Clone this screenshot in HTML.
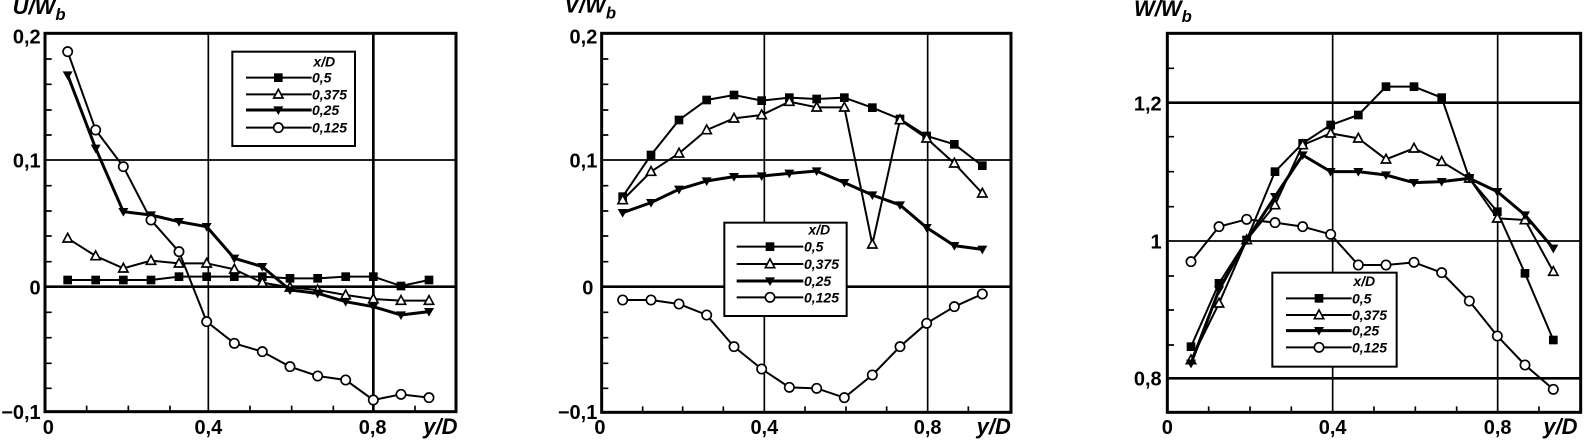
<!DOCTYPE html>
<html><head><meta charset="utf-8"><style>
html,body{margin:0;padding:0;background:#fff;}
svg{display:block;}
text{font-family:"Liberation Sans",Arial,sans-serif;font-weight:bold;fill:#000;}
.n{font-size:60px;}
.t{font-size:66px;font-style:italic;}
.l{font-size:42px;font-style:italic;}
.s{fill:none;stroke:#000;stroke-width:6;}
.k{fill:none;stroke:#000;stroke-width:9;}
.g{stroke:#000;stroke-width:5;}
.G{stroke:#000;stroke-width:8;}
</style></head><body>
<svg width="1587" height="440" viewBox="0 0 1587 440" xmlns="http://www.w3.org/2000/svg">
<defs>
<marker id="sq" markerUnits="userSpaceOnUse" viewBox="-15 -15 30 30" markerWidth="30" markerHeight="30" refX="0" refY="0" overflow="visible"><rect x="-13" y="-13" width="26" height="26" fill="#000"/></marker>
<marker id="tr" markerUnits="userSpaceOnUse" viewBox="-15 -15 30 30" markerWidth="30" markerHeight="30" refX="0" refY="0" overflow="visible"><polygon points="0,-15 14,11 -14,11" fill="#fff" stroke="#000" stroke-width="5"/></marker>
<marker id="dt" markerUnits="userSpaceOnUse" viewBox="-15 -15 30 30" markerWidth="30" markerHeight="30" refX="0" refY="0" overflow="visible"><polygon points="0,15 15,-11 -15,-11" fill="#000"/></marker>
<marker id="ci" markerUnits="userSpaceOnUse" viewBox="-15 -15 30 30" markerWidth="30" markerHeight="30" refX="0" refY="0" overflow="visible"><circle r="14" fill="#fff" stroke="#000" stroke-width="5"/></marker>
</defs>

<!-- Panel 1 -->
<g transform="scale(0.33333)">
<text class="t" x="38" y="42">U/W<tspan font-size="50" dy="18">b</tspan></text>
<rect x="135" y="100" width="1233" height="1135" fill="none" stroke="#000" stroke-width="9"/>
<line class="g" x1="625" y1="100" x2="625" y2="1235"/>
<line class="G" x1="1120" y1="100" x2="1120" y2="1235"/>
<line class="g" x1="135" y1="480" x2="1368" y2="480"/>
<line class="G" x1="135" y1="860" x2="1368" y2="860"/>
<path class="g" d="M135 177h20M135 253h20M135 330h20M135 405h20M135 557h20M135 633h20M135 708h20M135 785h20M135 937h20M135 1013h20M135 1090h20M135 1165h20M260 1235v-18M385 1235v-18M510 1235v-18M750 1235v-18M875 1235v-18M1000 1235v-18M1245 1235v-18"/>
<text class="n" x="122" y="130" text-anchor="end">0,2</text>
<text class="n" x="122" y="502" text-anchor="end">0,1</text>
<text class="n" x="122" y="884" text-anchor="end">0</text>
<text class="n" x="122" y="1257" text-anchor="end">−0,1</text>
<text class="n" x="145" y="1302" text-anchor="middle">0</text>
<text class="n" x="625" y="1302" text-anchor="middle">0,4</text>
<text class="n" x="1118" y="1302" text-anchor="middle">0,8</text>
<text class="t" x="1270" y="1302">y/D</text>
<polyline class="s" marker-start="url(#sq)" marker-mid="url(#sq)" marker-end="url(#sq)" points="203,840 287,840 370,840 453,840 537,830 620,830 703,830 787,830 870,835 953,835 1037,830 1120,830 1203,858 1287,840"/>
<polyline class="s" stroke-width="4" marker-start="url(#tr)" marker-mid="url(#tr)" marker-end="url(#tr)" points="203,715 287,768 370,805 453,782 537,790 620,790 703,808 787,848 870,862 953,870 1037,885 1120,897 1203,902 1287,902"/>
<polyline class="k" marker-start="url(#dt)" marker-mid="url(#dt)" marker-end="url(#dt)" points="203,225 287,445 370,635 453,645 537,665 620,680 703,775 787,800 870,870 953,880 1037,905 1120,920 1203,945 1287,935"/>
<polyline class="s" marker-start="url(#ci)" marker-mid="url(#ci)" marker-end="url(#ci)" points="203,155 287,390 370,500 453,660 537,755 620,965 703,1030 787,1055 870,1100 953,1128 1037,1140 1120,1200 1203,1183 1287,1193"/>
<rect x="697" y="155" width="368" height="283" fill="#fff" stroke="#000" stroke-width="6"/>
<text class="l" x="940" y="200">x/D</text>
<polyline class="s" marker-mid="url(#sq)" points="738,233 835,233 935,233"/>
<polyline class="s" stroke-width="3" marker-mid="url(#tr)" points="738,283 835,283 935,283"/>
<polyline class="k" marker-mid="url(#dt)" points="738,330 835,330 935,330"/>
<polyline class="s" stroke-width="3" marker-mid="url(#ci)" points="738,383 835,383 935,383"/>
<text class="l" x="936" y="248">0,5</text>
<text class="l" x="936" y="298">0,375</text>
<text class="l" x="936" y="345">0,25</text>
<text class="l" x="936" y="398">0,125</text>
</g>

<!-- Panel 2 -->
<g transform="translate(530,0) scale(0.33333)">
<text class="t" x="103" y="38">V/W<tspan font-size="50" dy="18">b</tspan></text>
<rect x="215" y="100" width="1228" height="1137" fill="none" stroke="#000" stroke-width="9"/>
<line class="g" x1="703" y1="100" x2="703" y2="1237"/>
<line class="g" x1="1193" y1="100" x2="1193" y2="1237"/>
<line class="g" x1="215" y1="480" x2="1443" y2="480"/>
<line class="G" x1="215" y1="860" x2="1443" y2="860"/>
<path class="g" d="M215 177h20M215 253h20M215 330h20M215 405h20M215 557h20M215 633h20M215 708h20M215 785h20M215 937h20M215 1013h20M215 1090h20M215 1165h20M338 1237v-18M458 1237v-18M580 1237v-18M825 1237v-18M948 1237v-18M1070 1237v-18M1315 1237v-18"/>
<text class="n" x="202" y="130" text-anchor="end">0,2</text>
<text class="n" x="202" y="502" text-anchor="end">0,1</text>
<text class="n" x="190" y="884" text-anchor="end">0</text>
<text class="n" x="202" y="1257" text-anchor="end">−0,1</text>
<text class="n" x="210" y="1302" text-anchor="middle">0</text>
<text class="n" x="703" y="1302" text-anchor="middle">0,4</text>
<text class="n" x="1193" y="1302" text-anchor="middle">0,8</text>
<text class="t" x="1340" y="1302">y/D</text>
<polyline class="s" marker-start="url(#sq)" marker-mid="url(#sq)" marker-end="url(#sq)" points="278,590 363,465 447,360 530,300 612,285 695,302 778,293 860,297 943,293 1027,323 1110,357 1190,408 1273,433 1357,497"/>
<polyline class="s" stroke-width="4" marker-start="url(#tr)" marker-mid="url(#tr)" marker-end="url(#tr)" points="278,600 363,515 447,460 530,390 612,355 695,345 778,305 860,322 943,322 1027,733 1110,360 1190,415 1273,490 1357,580"/>
<polyline class="k" marker-start="url(#dt)" marker-mid="url(#dt)" marker-end="url(#dt)" points="278,638 363,608 447,568 530,543 612,530 695,528 778,520 860,513 943,548 1027,585 1110,615 1190,683 1273,737 1357,748"/>
<polyline class="s" marker-start="url(#ci)" marker-mid="url(#ci)" marker-end="url(#ci)" points="278,900 363,900 447,912 530,945 612,1040 695,1107 778,1162 860,1165 943,1193 1027,1125 1110,1040 1190,970 1273,920 1357,882"/>
<rect x="583" y="668" width="367" height="280" fill="#fff" stroke="#000" stroke-width="6"/>
<text class="l" x="835" y="703">x/D</text>
<polyline class="s" marker-mid="url(#sq)" points="620,740 720,740 820,740"/>
<polyline class="s" stroke-width="3" marker-mid="url(#tr)" points="620,792 720,792 820,792"/>
<polyline class="k" marker-mid="url(#dt)" points="620,843 720,843 820,843"/>
<polyline class="s" stroke-width="3" marker-mid="url(#ci)" points="620,892 720,892 820,892"/>
<text class="l" x="822" y="755">0,5</text>
<text class="l" x="822" y="807">0,375</text>
<text class="l" x="822" y="858">0,25</text>
<text class="l" x="822" y="907">0,125</text>
</g>

<!-- Panel 3 -->
<g transform="translate(1060,0) scale(0.33333)">
<text class="t" x="222" y="48">W/W<tspan font-size="50" dy="18">b</tspan></text>
<rect x="322" y="100" width="1240" height="1137" fill="none" stroke="#000" stroke-width="9"/>
<line class="g" x1="818" y1="100" x2="818" y2="1237"/>
<line class="g" x1="1313" y1="100" x2="1313" y2="1237"/>
<line class="G" x1="322" y1="308" x2="1562" y2="308"/>
<line class="g" x1="322" y1="723" x2="1562" y2="723"/>
<line class="G" x1="322" y1="1135" x2="1562" y2="1135"/>
<path class="g" d="M322 205h20M322 410h20M322 515h20M322 620h20M322 828h20M322 930h20M322 1035h20M446 1237v-18M570 1237v-18M694 1237v-18M942 1237v-18M1066 1237v-18M1190 1237v-18M1437 1237v-18"/>
<text class="n" x="305" y="332" text-anchor="end">1,2</text>
<text class="n" x="305" y="745" text-anchor="end">1</text>
<text class="n" x="305" y="1157" text-anchor="end">0,8</text>
<text class="n" x="322" y="1302" text-anchor="middle">0</text>
<text class="n" x="818" y="1302" text-anchor="middle">0,4</text>
<text class="n" x="1313" y="1302" text-anchor="middle">0,8</text>
<text class="t" x="1450" y="1302">y/D</text>
<polyline class="s" marker-start="url(#sq)" marker-mid="url(#sq)" marker-end="url(#sq)" points="393,1040 477,850 560,720 645,515 728,430 812,375 895,345 978,260 1062,260 1145,293 1228,535 1312,635 1395,820 1480,1020"/>
<polyline class="s" stroke-width="4" marker-start="url(#tr)" marker-mid="url(#tr)" marker-end="url(#tr)" points="393,1080 477,910 560,720 645,615 728,435 812,400 895,415 978,478 1062,445 1145,485 1228,535 1312,655 1395,660 1480,815"/>
<polyline class="k" marker-start="url(#dt)" marker-mid="url(#dt)" marker-end="url(#dt)" points="393,1090 477,870 560,720 645,590 728,465 812,515 895,515 978,525 1062,548 1145,545 1228,535 1312,575 1395,645 1480,745"/>
<polyline class="s" marker-start="url(#ci)" marker-mid="url(#ci)" marker-end="url(#ci)" points="393,785 477,680 560,658 645,668 728,680 812,703 895,795 978,795 1062,787 1145,818 1228,903 1312,1008 1395,1095 1480,1168"/>
<rect x="637" y="818" width="373" height="282" fill="#fff" stroke="#000" stroke-width="6"/>
<text class="l" x="880" y="858">x/D</text>
<polyline class="s" marker-mid="url(#sq)" points="678,895 777,895 875,895"/>
<polyline class="s" stroke-width="3" marker-mid="url(#tr)" points="678,945 777,945 875,945"/>
<polyline class="k" marker-mid="url(#dt)" points="678,992 777,992 875,992"/>
<polyline class="s" stroke-width="3" marker-mid="url(#ci)" points="678,1042 777,1042 875,1042"/>
<text class="l" x="876" y="910">0,5</text>
<text class="l" x="876" y="960">0,375</text>
<text class="l" x="876" y="1007">0,25</text>
<text class="l" x="876" y="1057">0,125</text>
</g>
</svg>
</body></html>
